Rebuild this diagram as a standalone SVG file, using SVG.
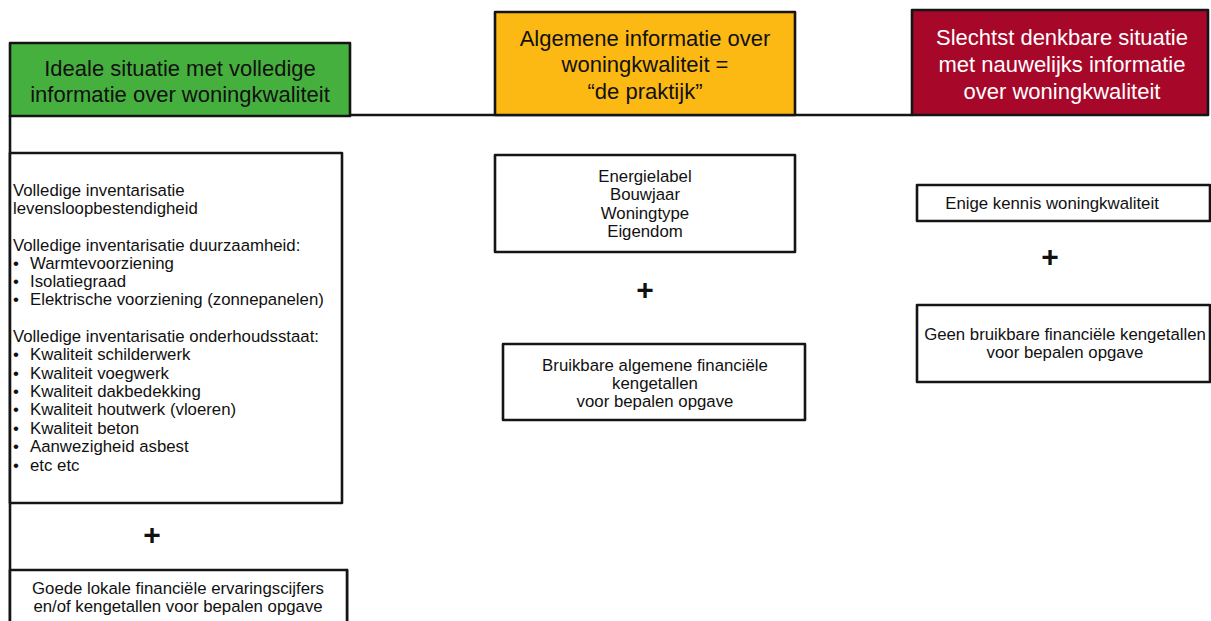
<svg xmlns="http://www.w3.org/2000/svg" width="1211" height="621" viewBox="0 0 1211 621">
  <style>
    .box { fill: #ffffff; stroke: #151515; stroke-width: 2.6; stroke-linejoin: round; }
    .hdr { stroke: #151515; stroke-width: 2.6; stroke-linejoin: round; }
    .conn { fill: none; stroke: #151515; stroke-width: 2.6; stroke-linecap: round; }
    .ht { font-family: "Liberation Sans", Arial, sans-serif; font-size: 22px; text-anchor: middle; fill: #111; }
    .t { font-family: "Liberation Sans", Arial, sans-serif; font-size: 16.8px; fill: #111; }
    .c { text-anchor: middle; }
    .plus { font-family: "Liberation Sans", Arial, sans-serif; font-size: 30px; font-weight: bold; text-anchor: middle; fill: #111; }
  </style>

  <g id="connectors">
    <line class="conn" x1="350" y1="115" x2="912" y2="115"/>
    <line class="conn" x1="10" y1="116" x2="10" y2="621"/>
    <line class="conn" x1="347" y1="570" x2="347" y2="621"/>
  </g>

  <g id="header-ideal">
    <rect class="hdr" x="10" y="43" width="340" height="73" fill="#45b03d"/>
    <text class="ht" x="180" y="76">Ideale situatie met volledige</text>
    <text class="ht" x="180" y="102">informatie over woningkwaliteit</text>
  </g>

  <g id="header-praktijk">
    <rect class="hdr" x="495" y="12" width="300" height="103" fill="#fcb813"/>
    <text class="ht" x="645" y="46">Algemene informatie over</text>
    <text class="ht" x="645" y="72">woningkwaliteit =</text>
    <text class="ht" x="645" y="99">“de praktijk”</text>
  </g>

  <g id="header-slechtst">
    <rect class="hdr" x="912" y="10" width="296" height="105" fill="#a7082a"/>
    <text class="ht" x="1062" y="45" fill="#ffffff" style="fill:#ffffff">Slechtst denkbare situatie</text>
    <text class="ht" x="1062" y="72" style="fill:#ffffff">met nauwelijks informatie</text>
    <text class="ht" x="1062" y="99" style="fill:#ffffff">over woningkwaliteit</text>
  </g>

  <g id="ideal-details">
    <rect class="box" x="10" y="153" width="332" height="350"/>
    <text class="t" x="13" y="196">Volledige inventarisatie</text>
    <text class="t" x="13" y="214">levensloopbestendigheid</text>
    <text class="t" x="13" y="251">Volledige inventarisatie duurzaamheid:</text>
    <text class="t" x="13" y="269">•</text><text class="t" x="30" y="269">Warmtevoorziening</text>
    <text class="t" x="13" y="287">•</text><text class="t" x="30" y="287">Isolatiegraad</text>
    <text class="t" x="13" y="305">•</text><text class="t" x="30" y="305">Elektrische voorziening (zonnepanelen)</text>
    <text class="t" x="13" y="342">Volledige inventarisatie onderhoudsstaat:</text>
    <text class="t" x="13" y="360">•</text><text class="t" x="30" y="360">Kwaliteit schilderwerk</text>
    <text class="t" x="13" y="379">•</text><text class="t" x="30" y="379">Kwaliteit voegwerk</text>
    <text class="t" x="13" y="397">•</text><text class="t" x="30" y="397">Kwaliteit dakbedekking</text>
    <text class="t" x="13" y="415">•</text><text class="t" x="30" y="415">Kwaliteit houtwerk (vloeren)</text>
    <text class="t" x="13" y="434">•</text><text class="t" x="30" y="434">Kwaliteit beton</text>
    <text class="t" x="13" y="452">•</text><text class="t" x="30" y="452">Aanwezigheid asbest</text>
    <text class="t" x="13" y="471">•</text><text class="t" x="30" y="471">etc etc</text>
  </g>

  <g id="plus-left">
    <text class="plus" x="152" y="545">+</text>
  </g>

  <g id="ideal-financial">
    <rect class="box" x="10" y="570" width="337" height="60"/>
    <text class="t c" x="178" y="594">Goede lokale financiële ervaringscijfers</text>
    <text class="t c" x="178" y="612">en/of kengetallen voor bepalen opgave</text>
  </g>

  <g id="praktijk-details">
    <rect class="box" x="495" y="155" width="300" height="97"/>
    <text class="t c" x="645" y="182">Energielabel</text>
    <text class="t c" x="645" y="200">Bouwjaar</text>
    <text class="t c" x="645" y="219">Woningtype</text>
    <text class="t c" x="645" y="237">Eigendom</text>
  </g>

  <g id="plus-middle">
    <text class="plus" x="645" y="300">+</text>
  </g>

  <g id="praktijk-financial">
    <rect class="box" x="503" y="344" width="302" height="76"/>
    <text class="t c" x="655" y="371">Bruikbare algemene financiële</text>
    <text class="t c" x="655" y="389">kengetallen</text>
    <text class="t c" x="655" y="407">voor bepalen opgave</text>
  </g>

  <g id="slechtst-details">
    <rect class="box" x="917" y="185" width="293" height="36"/>
    <text class="t c" x="1052" y="209">Enige kennis woningkwaliteit</text>
  </g>

  <g id="plus-right">
    <text class="plus" x="1050" y="267">+</text>
  </g>

  <g id="slechtst-financial">
    <rect class="box" x="917" y="305" width="293" height="77"/>
    <text class="t c" x="1065" y="340">Geen bruikbare financiële kengetallen</text>
    <text class="t c" x="1065" y="358">voor bepalen opgave</text>
  </g>
</svg>
